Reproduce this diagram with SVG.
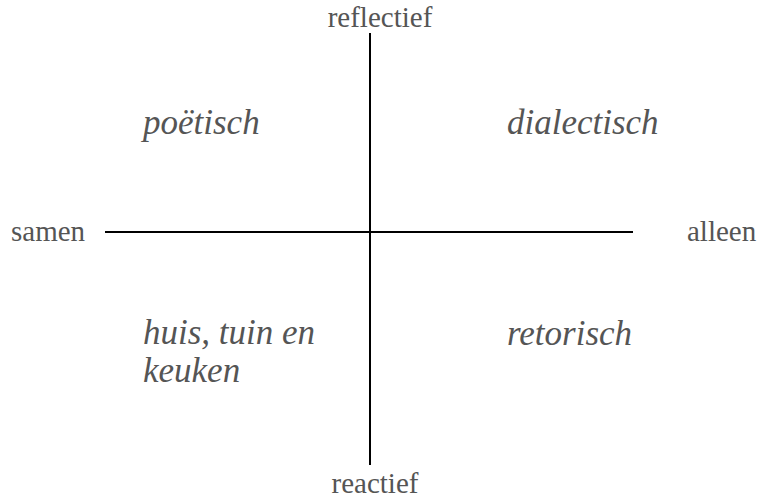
<svg xmlns="http://www.w3.org/2000/svg" width="760" height="499" viewBox="0 0 760 499">
<style>
.lbl{font-family:"Liberation Serif","Times New Roman",serif;font-size:29px;fill:#555}
.q{font-family:"Liberation Serif","Times New Roman",serif;font-size:35px;font-style:italic;fill:#555}
.ax{stroke:#000;stroke-width:2;fill:none}
</style>
<rect width="760" height="499" fill="#fff"/>
<g id="connectors">
<line class="ax" x1="370" y1="33" x2="370" y2="465"/>
<line class="ax" x1="105" y1="232" x2="633" y2="232"/>
</g>
<g id="reflectief"><text class="lbl" x="380" y="27" text-anchor="middle">reflectief</text></g>
<g id="reactief"><text class="lbl" x="375" y="493" text-anchor="middle">reactief</text></g>
<g id="samen"><text class="lbl" x="11" y="241">samen</text></g>
<g id="alleen"><text class="lbl" x="687" y="241">alleen</text></g>
<g id="poetisch"><text class="q" x="143" y="134">poëtisch</text></g>
<g id="dialectisch"><text class="q" x="507" y="134">dialectisch</text></g>
<g id="huis"><text class="q" x="143" y="344">huis, tuin en</text><text class="q" x="143" y="382">keuken</text></g>
<g id="retorisch"><text class="q" x="507" y="345">retorisch</text></g>
</svg>
